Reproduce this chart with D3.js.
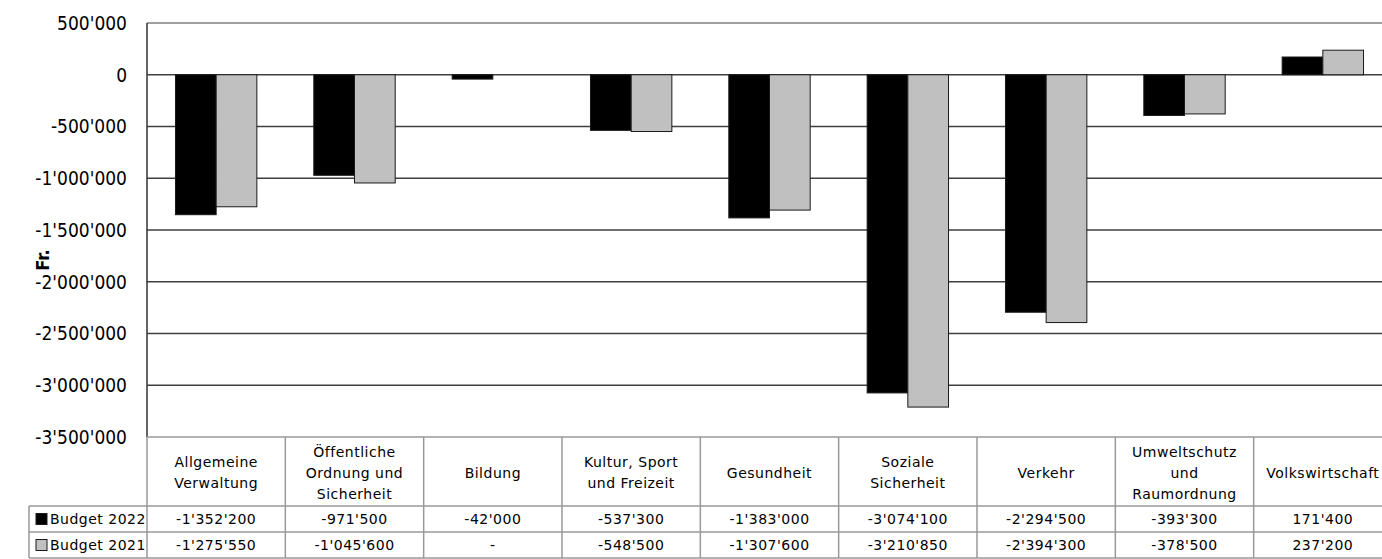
<!DOCTYPE html>
<html>
<head>
<meta charset="utf-8">
<script src="https://cdn.jsdelivr.net/npm/d3@7"></script>
<style>
    body { margin: 0; background: #fff; }
    svg { display: block; }
</style>
</head>
<body>
<svg id="chart" width="1382" height="559"></svg>
<script>

const categories = [
    "Allgemeine\nVerwaltung",
    "Öffentliche\nOrdnung und\nSicherheit",
    "Bildung",
    "Kultur, Sport\nund Freizeit",
    "Gesundheit",
    "Soziale\nSicherheit",
    "Verkehr",
    "Umweltschutz\nund\nRaumordnung",
    "Volkswirtschaft"
];
const seriesNames = ["Budget 2022", "Budget 2021"];
const budget2022 = [-1352200, -971500, -42000, -537300, -1383000, -3074100, -2294500, -393300, 171400];
const budget2021 = [-1275550, -1045600, null, -548500, -1307600, -3210850, -2394300, -378500, 237200];
const yTicks = [500000, 0, -500000, -1000000, -1500000, -2000000, -2500000, -3000000, -3500000];

const seriesColors = ["#000000", "#c0c0c0"];
const series = [budget2022, budget2021];

// Swiss number format (1'000'000)
const locale = d3.formatLocale({ decimal: ".", thousands: "'", grouping: [3], currency: ["", ""], minus: "-" });
const fmt = locale.format(",d");

const svg = d3.select("#chart");

// Layout
const plotLeft = 147, plotRight = 1392;
const plotTop = 23, plotBottom = 437;
const headerBottom = 506, rowH = 26;
const legendLeft = 29;

const x = d3.scaleBand()
    .domain(d3.range(categories.length))
    .range([plotLeft, plotRight])
    .paddingInner(0)
    .paddingOuter(0);

const y = d3.scaleLinear()
    .domain([-3500000, 500000])
    .range([plotBottom, plotTop]);

const barW = x.bandwidth() / 3.4;

// Gridlines
svg.append("g")
    .selectAll("line")
    .data(yTicks.filter(t => t > -3500000))
    .join("line")
        .attr("x1", plotLeft)
        .attr("x2", plotRight)
        .attr("y1", d => y(d))
        .attr("y2", d => y(d))
        .attr("stroke", d => d === 500000 ? "#808080" : "#404040")
        .attr("stroke-width", 1.3);

// Tick labels
svg.append("g")
    .attr("font-family", "DejaVu Sans Condensed, DejaVu Sans, sans-serif")
    .attr("font-size", 19)
    .attr("text-anchor", "end")
    .selectAll("text")
    .data(yTicks)
    .join("text")
        .attr("x", plotLeft - 20)
        .attr("y", d => y(d))
        .attr("dy", "0.36em")
        .attr("fill", "#000")
        .text(d => fmt(d));

// Axis title
svg.append("text")
    .attr("transform", `translate(49,260) rotate(-90)`)
    .attr("text-anchor", "middle")
    .attr("font-family", "DejaVu Sans Condensed, DejaVu Sans, sans-serif")
    .attr("font-weight", "bold")
    .attr("font-size", 18)
    .text("Fr.");

// Bars
series.forEach((values, si) => {
    svg.append("g")
        .selectAll("rect")
        .data(values.map((v, i) => ({ v, i })).filter(d => d.v !== null))
        .join("rect")
            .attr("x", d => x(d.i) + x.bandwidth() / 2 - barW + si * barW)
            .attr("width", barW)
            .attr("y", d => y(Math.max(0, d.v)))
            .attr("height", d => Math.abs(y(d.v) - y(0)))
            .attr("fill", seriesColors[si])
            .attr("stroke", "#1a1a1a")
            .attr("stroke-width", 1);
});

// Y axis line
svg.append("line")
    .attr("x1", plotLeft).attr("x2", plotLeft)
    .attr("y1", plotTop).attr("y2", plotBottom)
    .attr("stroke", "#333")
    .attr("stroke-width", 1.5);

// Data table
const table = svg.append("g")
    .attr("font-family", "DejaVu Sans, sans-serif")
    .attr("font-size", 14)
    .attr("letter-spacing", 0.5)
    .attr("fill", "#000");

const gridColor = "#999";
const tableBottom = headerBottom + rowH * 2;

// horizontal lines
table.append("line")
    .attr("x1", plotLeft).attr("x2", plotRight)
    .attr("y1", plotBottom).attr("y2", plotBottom)
    .attr("stroke", gridColor).attr("stroke-width", 1.5);
[headerBottom, headerBottom + rowH, tableBottom].forEach(yy => {
    table.append("line")
        .attr("x1", legendLeft).attr("x2", plotRight)
        .attr("y1", yy).attr("y2", yy)
        .attr("stroke", gridColor).attr("stroke-width", 1.5);
});

// vertical lines
d3.range(categories.length + 1).forEach(i => {
    const xx = i < categories.length ? x(i) : plotRight;
    table.append("line")
        .attr("x1", xx).attr("x2", xx)
        .attr("y1", plotBottom).attr("y2", tableBottom)
        .attr("stroke", gridColor).attr("stroke-width", 1.5);
});
table.append("line")
    .attr("x1", legendLeft).attr("x2", legendLeft)
    .attr("y1", headerBottom).attr("y2", tableBottom)
    .attr("stroke", gridColor).attr("stroke-width", 1.5);

// header labels
const headerMid = (plotBottom + headerBottom) / 2 + 1;
categories.forEach((label, i) => {
    const lines = label.split("\n");
    const t = table.append("text")
        .attr("text-anchor", "middle")
        .attr("x", x(i) + x.bandwidth() / 2);
    lines.forEach((ln, k) => {
        t.append("tspan")
            .attr("x", x(i) + x.bandwidth() / 2)
            .attr("y", headerMid + (k - (lines.length - 1) / 2) * 21)
            .attr("dy", "0.36em")
            .text(ln);
    });
});

// rows
series.forEach((values, si) => {
    const rowMid = headerBottom + rowH * si + rowH / 2;
    table.append("rect")
        .attr("x", 36)
        .attr("y", rowMid - 5.5)
        .attr("width", 11)
        .attr("height", 11)
        .attr("fill", seriesColors[si])
        .attr("stroke", "#1a1a1a")
        .attr("stroke-width", 1);
    table.append("text")
        .attr("x", 50)
        .attr("y", rowMid)
        .attr("dy", "0.36em")
        .text(seriesNames[si]);
    values.forEach((v, i) => {
        table.append("text")
            .attr("text-anchor", "middle")
            .attr("x", x(i) + x.bandwidth() / 2)
            .attr("y", rowMid)
            .attr("dy", "0.36em")
            .text(v === null ? "-" : fmt(v));
    });
});

</script>
</body>
</html>
